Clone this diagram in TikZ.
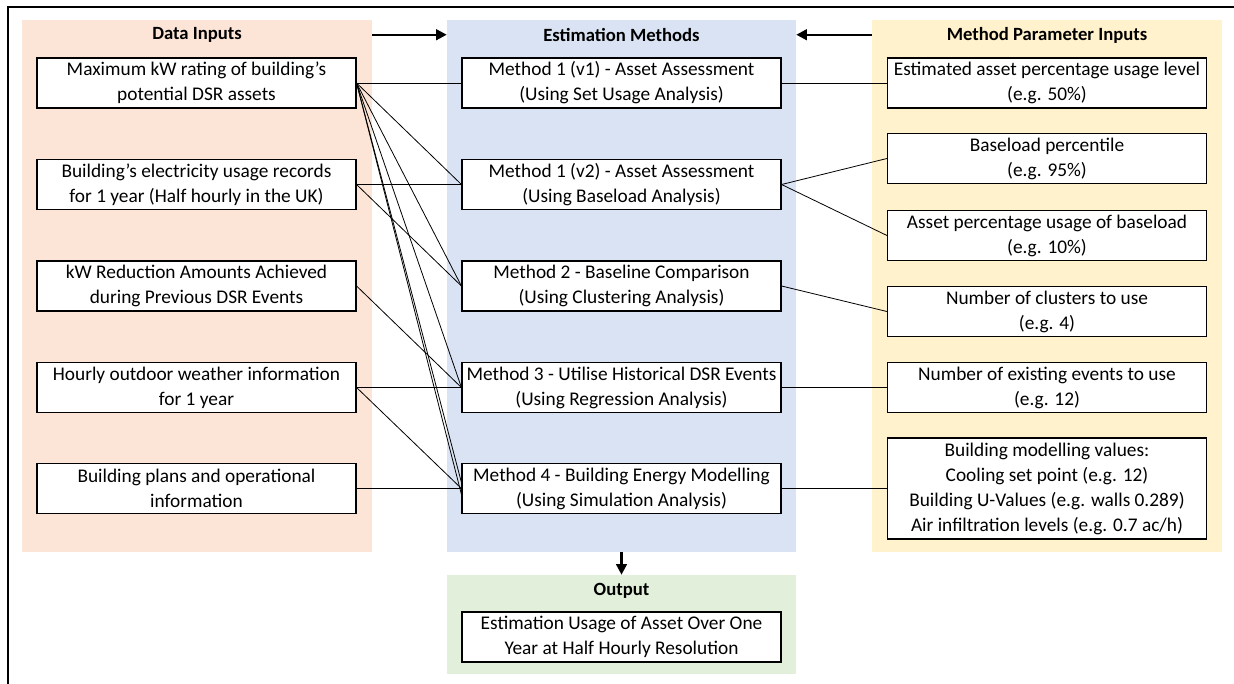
\documentclass[tikz,border=0pt]{standalone}
\usepackage{fontspec}
\setmainfont{Carlito}
\usetikzlibrary{arrows.meta}
\definecolor{peach}{HTML}{FCE4D6}
\definecolor{lblue}{HTML}{DAE3F3}
\definecolor{lyellow}{HTML}{FFF2CC}
\definecolor{lgreen}{HTML}{E2EFDA}
\begin{document}
\begin{tikzpicture}[x=0.75pt,y=-0.75pt,
  panel/.style={draw=none,inner sep=0pt,minimum width=262.5pt},
  box/.style={draw,line width=1.1pt,fill=white,minimum width=239pt,minimum height=37.5pt,inner sep=0pt,align=center,font=\fontsize{14.5}{18.75}\selectfont},
  ttl/.style={font=\bfseries\fontsize{14}{16}\selectfont,inner sep=0pt},
  conn/.style={line width=0.6pt},
  bigarrow/.style={line width=1.8pt,-{Triangle[length=8pt,width=8pt]}}]
\useasboundingbox (0,0) rectangle (1234,684);
% frame
\draw[line width=1.5pt] (8,684) -- (8,7) -- (1234,7);
% panels
\node[panel,fill=peach,minimum height=399pt] (pin) at (197,286) {};
\node[panel,fill=lblue,minimum width=261.75pt,minimum height=399pt] (pmid) at (621.5,286) {};
\node[panel,fill=lyellow,minimum height=399pt] (ppar) at (1047,286) {};
\node[panel,fill=lgreen,minimum width=261.75pt,minimum height=74.25pt] (pout) at (621.5,624.5) {};
% titles
\node[ttl] (tin) at (197,35) {Data Inputs};
\node[ttl] (tmid) at (621.5,35) {Estimation Methods};
\node[ttl] (tpar) at (1047,35) {Method Parameter Inputs};
\node[ttl] (tout) at (621.5,591) {Output};
% big arrows
\draw[bigarrow] ([yshift=-11.25pt]pin.north east) -- ([yshift=-11.25pt]pmid.north west);
\draw[bigarrow] ([yshift=-11.25pt]ppar.north west) -- ([yshift=-11.25pt]pmid.north east);
\draw[bigarrow] (pmid.south) -- (pout.north);
% left boxes
\node[box] (L1) at (196.5,83) {Maximum kW rating of building’s\\potential DSR assets};
\node[box] (L2) at (196.5,184.5) {Building’s electricity usage records\\for 1 year (Half hourly in the UK)};
\node[box] (L3) at (196.5,286) {kW Reduction Amounts Achieved\\during Previous DSR Events};
\node[box] (L4) at (196.5,387.5) {Hourly outdoor weather information\\for 1 year};
\node[box] (L5) at (196.5,488.5) {Building plans and operational\\information};
% middle boxes
\node[box] (M1) at (621.5,83) {Method 1 (v1) - Asset Assessment\\(Using Set Usage Analysis)};
\node[box] (M2) at (621.5,184.5) {Method 1 (v2) - Asset Assessment\\(Using Baseload Analysis)};
\node[box] (M3) at (621.5,286) {Method 2 - Baseline Comparison\\(Using Clustering Analysis)};
\node[box] (M4) at (621.5,387.5) {Method 3 - Utilise Historical DSR Events\\(Using Regression Analysis)};
\node[box] (M5) at (621.5,488.5) {Method 4 - Building Energy Modelling\\(Using Simulation Analysis)};
% right boxes
\node[box] (R1) at (1047,83) {Estimated asset percentage usage level\\(e.g. 50\%)};
\node[box] (R2) at (1047,158.5) {Baseload percentile\\(e.g. 95\%)};
\node[box] (R3) at (1047,235.5) {Asset percentage usage of baseload\\(e.g. 10\%)};
\node[box] (R4) at (1047,311.5) {Number of clusters to use\\(e.g. 4)};
\node[box] (R5) at (1047,387.5) {Number of existing events to use\\(e.g. 12)};
\node[box,minimum height=75.75pt] (R6) at (1047,488.5) {Building modelling values:\\Cooling set point (e.g. 12)\\Building U-Values (e.g. walls 0.289)\\Air infiltration levels (e.g. 0.7 ac/h)};
% output box
\node[box] (O1) at (621.5,637) {Estimation Usage of Asset Over One\\Year at Half Hourly Resolution};
% connectors left
\draw[conn] (L1.east) -- (M1.west);
\draw[conn] (L1.east) -- (M2.west);
\draw[conn] (L1.east) -- (M3.west);
\draw[conn] (L1.east) -- (M4.west);
\draw[conn] (L1.east) -- ([yshift=4.5pt]M5.west);
\draw[conn] (L1.east) -- ([yshift=-4.5pt]M5.west);
\draw[conn] (L2.east) -- (M2.west);
\draw[conn] (L2.east) -- (M3.west);
\draw[conn] (L3.east) -- (M4.west);
\draw[conn] (L4.east) -- (M4.west);
\draw[conn] (L4.east) -- (M5.west);
\draw[conn] (L5.east) -- (M5.west);
% connectors right
\draw[conn] (M1.east) -- (R1.west);
\draw[conn] (M2.east) -- (R2.west);
\draw[conn] (M2.east) -- (R3.west);
\draw[conn] (M3.east) -- (R4.west);
\draw[conn] (M4.east) -- (R5.west);
\draw[conn] (M5.east) -- (R6.west);
\end{tikzpicture}
\end{document}
